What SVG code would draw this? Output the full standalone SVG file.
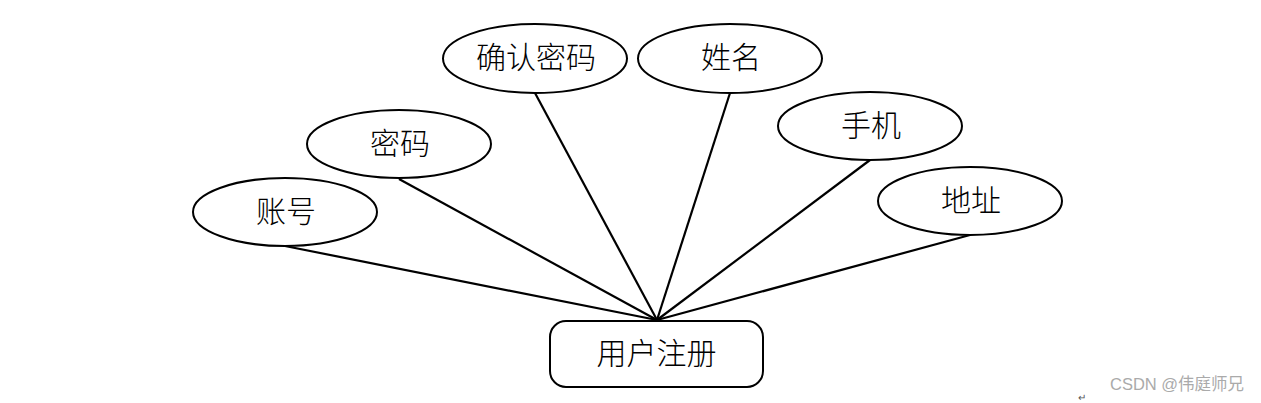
<svg xmlns="http://www.w3.org/2000/svg" width="1261" height="403" viewBox="0 0 1261 403">
<style>
.n{fill:#fff;stroke:#000;stroke-width:2}
.t{font-family:"Liberation Serif","Noto Sans CJK SC",serif;font-size:30px;font-weight:300;fill:#000;text-anchor:middle;dominant-baseline:central}
.c line{stroke:#000;stroke-width:2.2}
.w{font-family:"Liberation Sans","Noto Sans CJK SC",sans-serif;font-size:16.5px;fill:#aaa}
</style>
<rect width="1261" height="403" fill="#fff"/>
<g class="c" id="connectors">
<line x1="285" y1="246" x2="657" y2="320"/>
<line x1="399" y1="179" x2="657" y2="320"/>
<line x1="535" y1="93" x2="657" y2="320"/>
<line x1="730" y1="93" x2="657" y2="320"/>
<line x1="870" y1="160" x2="657" y2="320"/>
<line x1="970" y1="235" x2="657" y2="320"/>
</g>
<g id="n-zhanghao"><ellipse class="n" cx="285" cy="212" rx="92" ry="34"/><text class="t" x="286" y="211">账号</text></g>
<g id="n-mima"><ellipse class="n" cx="399" cy="144" rx="92" ry="34"/><text class="t" x="400" y="143">密码</text></g>
<g id="n-queren"><ellipse class="n" cx="535" cy="58.5" rx="92" ry="34.5"/><text class="t" x="536" y="57">确认密码</text></g>
<g id="n-xingming"><ellipse class="n" cx="730" cy="58.5" rx="92" ry="34.5"/><text class="t" x="731" y="57">姓名</text></g>
<g id="n-shouji"><ellipse class="n" cx="870" cy="126" rx="92" ry="34"/><text class="t" x="871" y="125">手机</text></g>
<g id="n-dizhi"><ellipse class="n" cx="970" cy="201" rx="92" ry="34"/><text class="t" x="971" y="200">地址</text></g>
<g id="n-register"><rect class="n" x="550" y="321" width="213" height="66" rx="16"/><text class="t" x="656.5" y="353">用户注册</text></g>
<text class="w" x="1110" y="390">CSDN @伟庭师兄</text>
<text x="1078" y="401" font-family="'Liberation Sans',sans-serif" font-size="10" fill="#555">↵</text>
</svg>
